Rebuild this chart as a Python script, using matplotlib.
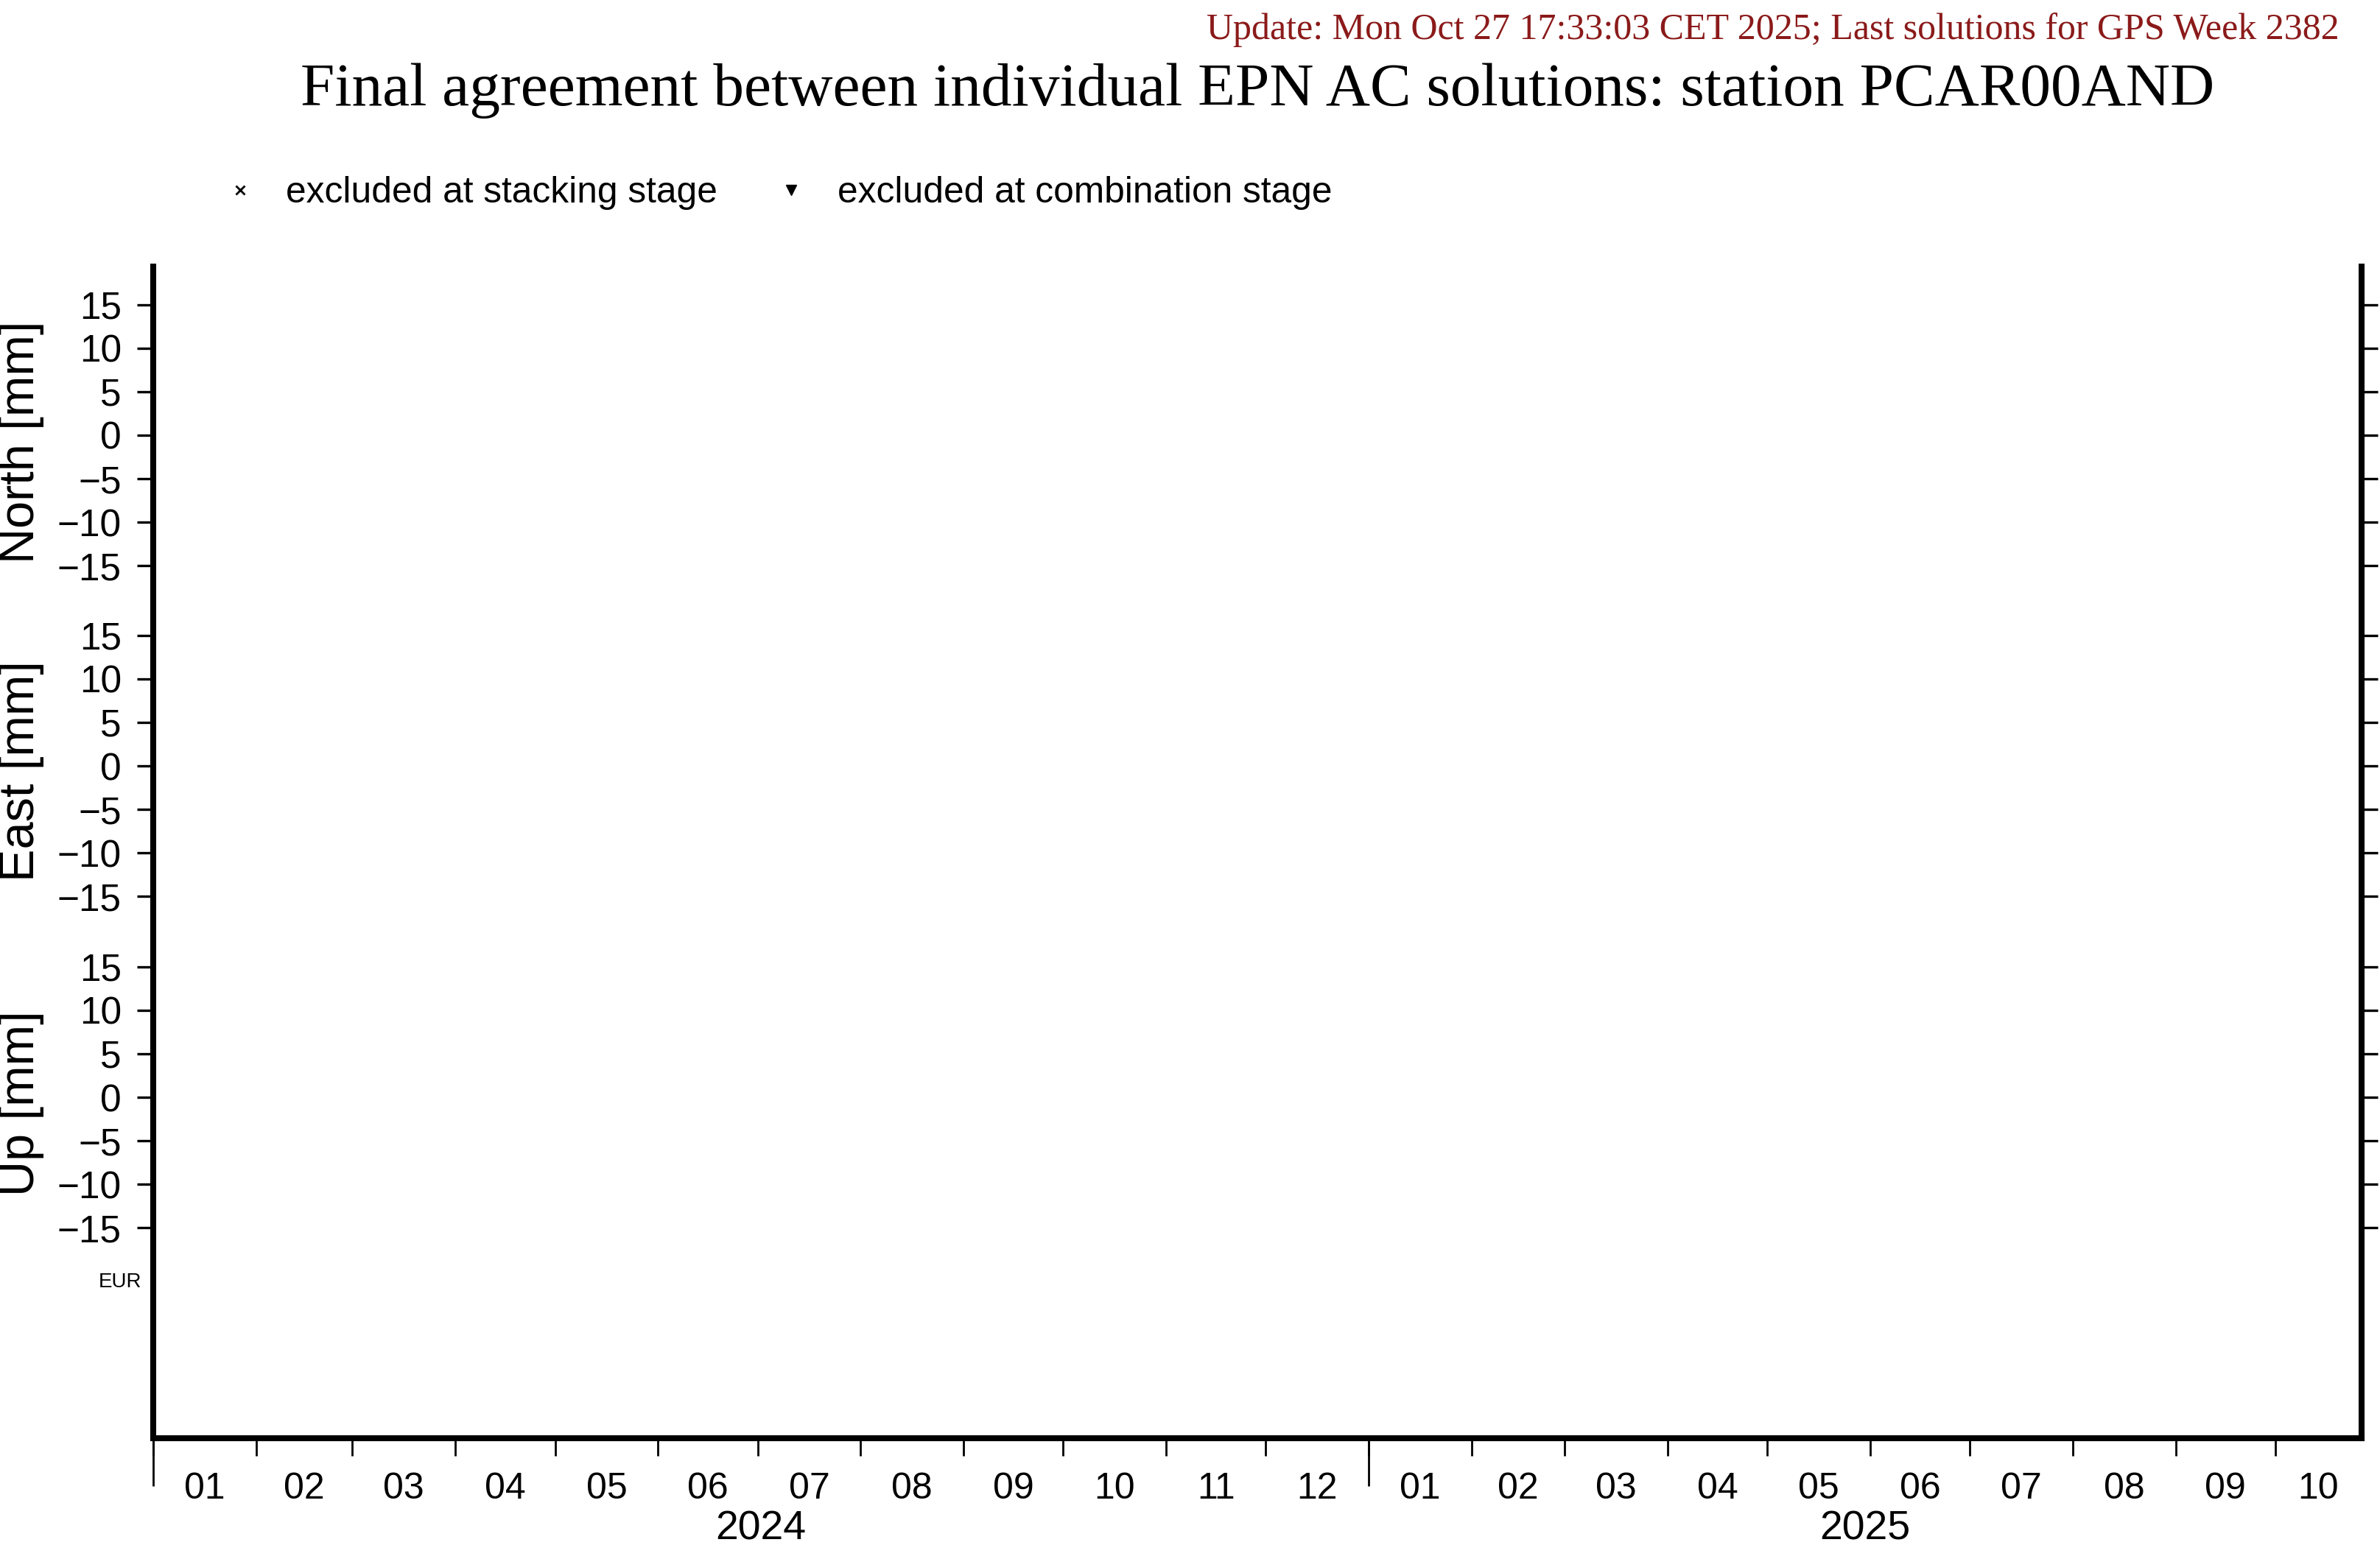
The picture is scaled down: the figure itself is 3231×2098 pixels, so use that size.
import datetime as dt
import matplotlib
matplotlib.use('Agg')
import matplotlib.pyplot as plt
import matplotlib.dates as mdates
from matplotlib.lines import Line2D

plt.rcParams['font.family'] = ['Liberation Sans', 'DejaVu Sans']

# chart content
title = 'Final agreement between individual EPN AC solutions: station PCAR00AND'
update = 'Update: Mon Oct 27 17:33:03 CET 2025; Last solutions for GPS Week 2382'
legend_labels = ['excluded at stacking stage', 'excluded at combination stage']
panels = ['North [mm]', 'East [mm]', 'Up [mm]']
ytick_vals = [-15, -10, -5, 0, 5, 10, 15]
ylim = (-19, 19)
ac_names = ['EUR']
t_start = dt.date(2024, 1, 1)
t_end = dt.date(2025, 10, 27)
years = [2024, 2025]

W, H = 3231, 2098
fig = plt.figure(figsize=(W / 100, H / 100), dpi=100)


def fx(px):
    return px / W


def fy(py):
    return 1 - py / H


# outer frame (left, right, bottom lines, time axis)
x0, x1 = 208, 3206
ytop, ybot = 362, 1953
ax = fig.add_axes([fx(x0), fy(ybot), (x1 - x0) / W, (ybot - ytop) / H])
ax.set_xlim(mdates.date2num(t_start), mdates.date2num(t_end))
ax.set_ylim(0, 1)
ax.set_yticks([])
ax.spines['top'].set_visible(False)
for s in ['left', 'right', 'bottom']:
    ax.spines[s].set_linewidth(5.8)

month_starts = [dt.date(y, m, 1) for y in years for m in range(1, 13)
                if dt.date(y, m, 1) <= t_end]
bounds = month_starts + [t_end]
month_mids = [mdates.date2num(a) + (mdates.date2num(b) - mdates.date2num(a)) / 2
              for a, b in zip(bounds[:-1], bounds[1:])]
ax.set_xticks(mdates.date2num(month_starts))
ax.set_xticklabels([])
ax.set_xticks(month_mids, minor=True)
ax.set_xticklabels(['%02d' % d.month for d in month_starts], minor=True)
ax.tick_params(axis='x', which='major', length=17, width=2, direction='out')
ax.tick_params(axis='x', which='minor', length=0, labelsize=36, pad=33)

# year ticks and labels
year_starts = [dt.date(y, 1, 1) for y in years]
ybounds = year_starts + [t_end]
year_mids = [mdates.date2num(a) + (mdates.date2num(b) - mdates.date2num(a)) / 2
             for a, b in zip(ybounds[:-1], ybounds[1:])]
sec = ax.secondary_xaxis('bottom')
sec.spines['bottom'].set_visible(False)
sec.set_xticks(mdates.date2num(year_starts))
sec.set_xticklabels([])
sec.set_xticks(year_mids, minor=True)
sec.set_xticklabels([str(y) for y in years], minor=True)
sec.tick_params(axis='x', which='major', length=47, width=2, direction='out')
sec.tick_params(axis='x', which='minor', length=0, labelsize=40, pad=70)

# the three component panels
centers = [591, 1040, 1490]
label_y = [600, 1047, 1498]
half = 224.75
for name, c, ly in zip(panels, centers, label_y):
    pa = fig.add_axes([fx(x0), fy(c + half), (x1 - x0) / W, 2 * half / H])
    pa.patch.set_visible(False)
    for s in pa.spines.values():
        s.set_visible(False)
    pa.set_xticks([])
    pa.set_ylim(*ylim)
    pa.set_yticks(ytick_vals)
    pa.tick_params(axis='y', left=True, right=True, labelleft=True,
                   direction='out', length=16, width=2.4, labelsize=37, pad=15)
    fig.text(fx(29), fy(ly), name, rotation=90, ha='center', va='center', fontsize=48)

for i, n in enumerate(ac_names):
    fig.text(fx(192), fy(1741 + i * 40), n, ha='right', va='center', fontsize=20)

# legend
handles = [Line2D([], [], ls='none', marker='x', ms=9, mew=2, color='k'),
           Line2D([], [], ls='none', marker='v', ms=10, color='k')]
fig.legend(handles=handles, labels=legend_labels, ncol=2, loc='center left',
           bbox_to_anchor=(fx(301), fy(262)), frameon=False, fontsize=35.7,
           handlelength=1.0, handletextpad=0.76, columnspacing=1.52,
           borderpad=0, borderaxespad=0)

fig.text(fx(1707), fy(123), title, ha='center', va='center', fontsize=60,
         family='Liberation Serif')
fig.text(fx(3176), fy(41), update, ha='right', va='center', fontsize=36,
         color='#8B1A1A', family='Liberation Serif')

fig.savefig('out.png', dpi=100)
